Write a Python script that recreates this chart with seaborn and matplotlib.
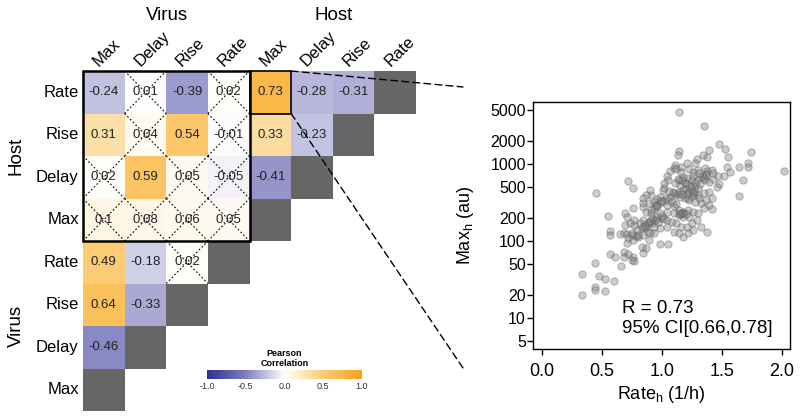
import numpy as np
import pandas as pd
import matplotlib
matplotlib.use('Agg')
import matplotlib.pyplot as plt
import seaborn as sns
from matplotlib.colors import LinearSegmentedColormap, ListedColormap
from matplotlib.patches import Rectangle, ConnectionPatch

# column order left -> right, rows top -> bottom are the reverse
col_labels = ['Max', 'Delay', 'Rise', 'Rate', 'Max', 'Delay', 'Rise', 'Rate']
row_labels = ['Rate', 'Rise', 'Delay', 'Max', 'Rate', 'Rise', 'Delay', 'Max']

# pearson r per row (Host Rate ... Virus Max), left part of each row
r_host_rate = [-0.24, 0.01, -0.39, 0.02, 0.73, -0.28, -0.31]
r_host_rise = [0.31, 0.04, 0.54, -0.01, 0.33, -0.23]
r_host_delay = [0.02, 0.59, 0.05, -0.05, -0.41]
r_host_max = [0.1, 0.08, 0.06, 0.05]
r_virus_rate = [0.49, -0.18, 0.02]
r_virus_rise = [0.64, -0.33]
r_virus_delay = [-0.46]
r_virus_max = []

# not significant -> crossed out
ns_host_rate = [0, 1, 0, 1, 0, 0, 0]
ns_host_rise = [0, 1, 0, 1, 0, 0]
ns_host_delay = [1, 0, 1, 1, 0]
ns_host_max = [1, 1, 1, 1]
ns_virus_rate = [0, 0, 1]
ns_virus_rise = [0, 0]
ns_virus_delay = [0]
ns_virus_max = []

# host rate vs host max, single cells
rate_h = [1.14, 1.35, 1.14, 1.13, 1.39, 1.48, 1.53, 1.74, 1.55, 1.38, 1.34, 1.29, 1.28, 1.21, 1.16,
          1.11, 1.10, 1.07, 1.04, 1.02, 1.02, 1.01, 1.05, 1.12, 1.16, 1.23, 1.26, 1.30, 1.36, 1.38,
          1.42, 1.43, 1.37, 1.33, 1.29, 1.25, 1.21, 1.18, 1.14, 1.11, 1.15, 1.19, 1.23, 1.28, 1.32,
          1.36, 1.39, 1.43, 1.47, 1.52, 1.54, 1.57, 1.72, 1.72, 1.64, 2.02, 1.68, 1.64, 1.48, 1.46,
          1.10, 1.14, 1.18, 1.22, 1.26, 1.30, 1.35, 1.39, 1.42, 1.37, 1.33, 1.28, 1.23, 1.19, 1.15,
          1.11, 1.07, 1.03, 0.98, 0.96, 0.91, 0.90, 0.87, 0.84, 0.84, 0.89, 0.93, 0.98, 1.04, 1.10,
          1.14, 1.18, 1.22, 1.26, 1.30, 1.35, 1.39, 1.42, 0.69, 0.71, 0.76, 0.84, 0.87, 0.91, 0.96,
          1.00, 1.04, 1.08, 1.12, 1.16, 1.21, 1.25, 1.29, 1.23, 1.18, 1.14, 1.10, 1.04, 0.98, 0.93,
          0.89, 0.84, 0.82, 0.77, 0.79, 0.83, 0.87, 0.93, 0.98, 1.04, 1.10, 1.14, 1.18, 1.22, 1.26,
          1.33, 1.38, 0.77, 0.73, 0.69, 0.68, 0.71, 0.75, 0.72, 0.76, 0.80, 0.84, 0.89, 0.93, 0.98,
          1.05, 0.71, 0.65, 0.57, 0.57, 0.55, 0.68, 0.72, 0.76, 0.77, 0.83, 0.84, 0.87, 0.90, 0.57,
          0.61, 0.66, 0.44, 0.33, 0.47, 0.52, 0.60, 0.44, 0.44, 0.52, 0.33, 0.68, 0.75, 0.45, 0.72,
          0.76, 1.20, 1.27, 1.31, 1.17, 1.24, 0.92, 0.95, 1.01, 1.13, 1.06, 0.88, 0.86, 1.34,
          0.88, 0.90, 0.92, 0.95, 0.97, 1.00, 1.02, 0.86, 0.84, 0.93, 0.95, 0.99, 1.05, 1.08, 1.12,
          1.16, 1.18, 1.20, 1.14, 1.22, 1.25, 1.27, 1.30, 1.24, 1.20, 1.17, 1.13, 1.26, 1.31, 1.35,
          1.28, 1.21, 1.17, 1.09, 0.96, 0.91, 0.78, 0.75, 0.80, 1.37]
max_h = [4670, 3130, 1470, 1290, 1510, 1790, 1560, 1440, 1210, 1210, 1300, 1140, 1035, 1035, 918,
         966, 890, 815, 695, 558, 481, 457, 616, 848, 791, 848, 791, 831, 873, 815,
         831, 752, 731, 681, 616, 616, 649, 681, 616, 558, 531, 558, 531, 505, 547,
         616, 586, 642, 702, 702, 900, 791, 1035, 918, 918, 815, 616, 382, 542, 505,
         414, 435, 457, 435, 414, 394, 414, 435, 356, 339, 307, 323, 339, 356, 374,
         394, 374, 356, 374, 346, 394, 457, 394, 356, 307, 307, 323, 307, 292, 283,
         251, 239, 251, 239, 228, 264, 292, 257, 228, 202, 264, 278, 239, 228, 206,
         196, 186, 177, 169, 153, 153, 169, 186, 206, 206, 216, 228, 239, 228, 186,
         177, 186, 169, 160, 138, 145, 153, 153, 145, 153, 131, 125, 113, 125, 138,
         151, 131, 186, 172, 160, 125, 122, 119, 108, 103, 113, 119, 103, 125, 91,
         90, 93, 122, 135, 119, 212, 72, 67, 62, 54, 84, 69, 80, 125, 67,
         62, 47, 52, 37, 35, 32, 30, 25, 23, 22.5, 19.8, 62, 56, 422, 604,
         490, 470, 400, 360, 230, 460, 170, 280, 330, 400, 440, 130, 150, 700,
         170, 180, 200, 185, 175, 210, 190, 160, 150, 260, 290, 330, 340, 320, 300,
         220, 230, 225, 230, 360, 380, 450, 480, 520, 560, 610, 640, 700, 760, 660,
         560, 410, 400, 430, 280, 250, 115, 125, 120, 720]

plt.rcParams['font.family'] = ['Liberation Sans', 'DejaVu Sans']

rows_r = [r_host_rate, r_host_rise, r_host_delay, r_host_max,
          r_virus_rate, r_virus_rise, r_virus_delay, r_virus_max]
rows_ns = [ns_host_rate, ns_host_rise, ns_host_delay, ns_host_max,
           ns_virus_rate, ns_virus_rise, ns_virus_delay, ns_virus_max]

n = len(col_labels)
mat = np.full((n, n), np.nan)
diag = np.full((n, n), np.nan)
annot = np.full((n, n), '', dtype=object)
for i, vals in enumerate(rows_r):
    for j, v in enumerate(vals):
        mat[i, j] = v
        annot[i, j] = '{:g}'.format(v)
    diag[i, len(vals)] = 1

cmap = LinearSegmentedColormap.from_list('pc', [(0, '#2e3192'), (0.25, '#7e7ebf'), (0.5, '#ffffff'),
                                                (0.75, '#fccb72'), (1, '#f7a21b')])

fig = plt.figure(figsize=(8, 4.18), dpi=100)
W, H = 800, 418
ax = fig.add_axes([83 / W, 1 - 411 / H, 333 / W, 340 / H])
cax = fig.add_axes([207 / W, 1 - 379 / H, 155 / W, 9 / H])

sns.heatmap(mat, mask=np.isnan(mat), cmap=cmap, vmin=-1, vmax=1, annot=annot, fmt='',
            annot_kws={'fontsize': 9.5, 'color': '#222222'}, ax=ax, cbar_ax=cax,
            cbar_kws={'orientation': 'horizontal', 'ticks': [-1, -0.5, 0, 0.5, 1]},
            xticklabels=col_labels, yticklabels=row_labels)
sns.heatmap(diag, mask=np.isnan(diag), cmap=ListedColormap(['#666666']), cbar=False, ax=ax,
            xticklabels=col_labels, yticklabels=row_labels)

ax.xaxis.tick_top()
ax.set_xticklabels(col_labels, rotation=45, ha='left', va='baseline', rotation_mode='anchor', fontsize=12)
ax.set_yticklabels(row_labels, rotation=0, fontsize=12)
ax.tick_params(length=0, pad=3)
for lab in ax.get_xticklabels():
    lab.set_transform(lab.get_transform() + matplotlib.transforms.ScaledTranslation(-5 / 100, 0, fig.dpi_scale_trans))

# crosses for non significant
for i, flags in enumerate(rows_ns):
    for j, f in enumerate(flags):
        if f:
            ax.plot([j, j + 1], [i, i + 1], color='black', lw=0.8, ls=(0, (1.5, 2)))
            ax.plot([j, j + 1], [i + 1, i], color='black', lw=0.8, ls=(0, (1.5, 2)))

ax.add_patch(Rectangle((0, 0), 4, 4, fill=False, lw=1.8, edgecolor='black', clip_on=False, zorder=5))
ax.add_patch(Rectangle((4, 0), 1, 1, fill=False, lw=1.2, edgecolor='black', clip_on=False, zorder=5))

cb = ax.collections[0].colorbar
cb.outline.set_visible(False)
cb.ax.tick_params(length=0, labelsize=6.5, labelcolor='#333333', pad=2)
cb.ax.set_xticklabels(['-1.0', '-0.5', '0.0', '0.5', '1.0'])
cb.ax.set_title('Pearson\nCorrelation', fontsize=6.5, fontweight='bold', pad=3, linespacing=1.1)

fig.text(167 / W, 1 - 15 / H, 'Virus', ha='center', va='center', fontsize=13.5)
fig.text(334 / W, 1 - 15 / H, 'Host', ha='center', va='center', fontsize=13.5)
fig.text(16 / W, 1 - 156 / H, 'Host', ha='center', va='center', rotation=90, fontsize=13.5)
fig.text(16 / W, 1 - 326 / H, 'Virus', ha='center', va='center', rotation=90, fontsize=13.5)

# scatter panel
ax2 = fig.add_axes([532.7 / W, 1 - 349 / H, 257.3 / W, 247.3 / H])
sns.scatterplot(x=rate_h, y=max_h, ax=ax2, color='#808080', alpha=0.4, s=28,
                edgecolor='#555555', linewidth=0.7)
ax2.set_yscale('log')
yt = [5, 10, 20, 50, 100, 200, 500, 1000, 2000, 5000]
ax2.set_yticks(yt)
ax2.set_yticklabels([str(t) for t in yt], fontsize=11.5)
ax2.yaxis.set_minor_locator(matplotlib.ticker.NullLocator())
xt = [0, 0.5, 1.0, 1.5, 2.0]
ax2.set_xticks(xt)
ax2.set_xticklabels(['{:.1f}'.format(t) for t in xt], fontsize=13)
ax2.set_xlim(-0.08, 2.07)
ax2.set_ylim(3.94, 6410)
ax2.tick_params(direction='out', length=4, width=1, color='black')
ax2.tick_params(axis='y', pad=1)
ax2.tick_params(axis='x', pad=6)
for s in ax2.spines.values():
    s.set_linewidth(1)
    s.set_color('black')
ax2.set_xlabel('Rate$_\\mathregular{h}$ (1/h)', fontsize=13, labelpad=3)
ax2.set_ylabel('Max$_\\mathregular{h}$ (au)', fontsize=13, labelpad=10)
ax2.text(0.67, 9.8, 'R = 0.73\n95% CI[0.66,0.78]', fontsize=13.5, ha='left', va='center', linespacing=1.2)

# dashed zoom lines from the highlighted cell
for yA, yB in [(0, 87), (1, 368)]:
    con = ConnectionPatch(xyA=(5, yA), coordsA=ax.transData, xyB=(463 / W, 1 - yB / H),
                          coordsB=fig.transFigure, color='black', lw=1, ls=(0, (5, 3)))
    fig.add_artist(con)

fig.savefig('out.png', dpi=100)
